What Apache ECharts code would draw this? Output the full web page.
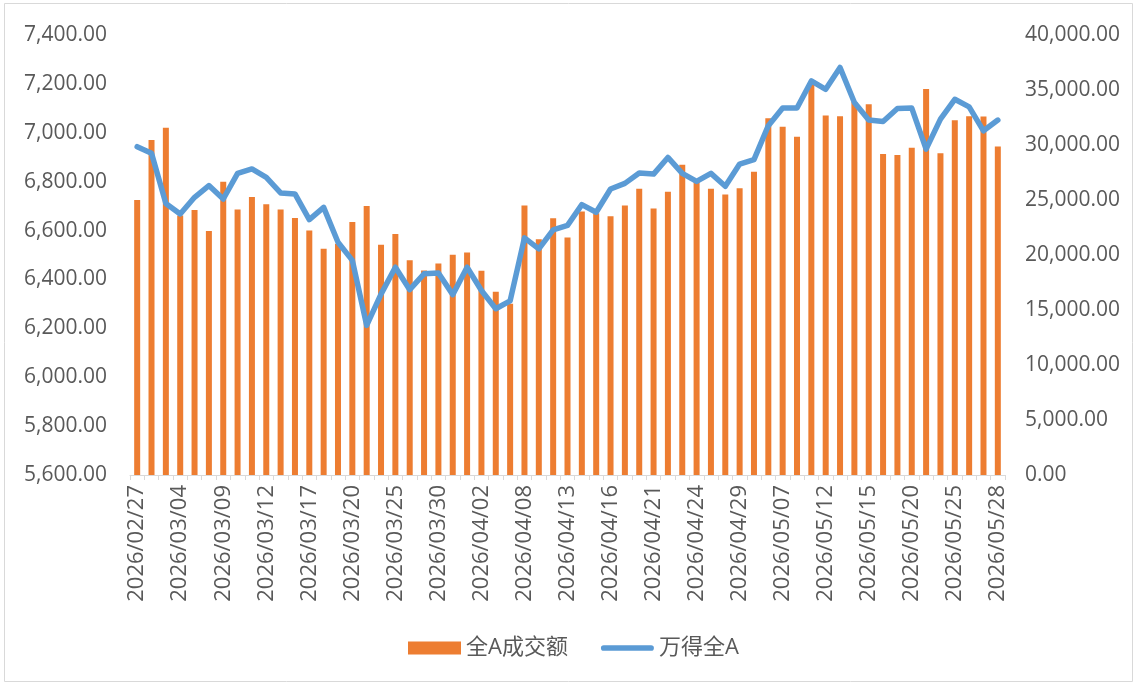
<!DOCTYPE html>
<html>
<head>
<meta charset="utf-8">
<script src="https://cdn.jsdelivr.net/npm/echarts@6/dist/echarts.min.js"></script>
<style>
html,body{margin:0;padding:0;background:#fff;}
#chart{width:1136px;height:684px;}
</style>
</head>
<body>
<div id="chart"></div>
<script>
var categories = [
 '2026/02/27','2026/03/02','2026/03/03','2026/03/04','2026/03/05','2026/03/06',
 '2026/03/09','2026/03/10','2026/03/11','2026/03/12','2026/03/13',
 '2026/03/16','2026/03/17','2026/03/18','2026/03/19','2026/03/20',
 '2026/03/23','2026/03/24','2026/03/25','2026/03/26','2026/03/27',
 '2026/03/30','2026/03/31','2026/04/01','2026/04/02','2026/04/03',
 '2026/04/07','2026/04/08','2026/04/09','2026/04/10',
 '2026/04/13','2026/04/14','2026/04/15','2026/04/16','2026/04/17',
 '2026/04/20','2026/04/21','2026/04/22','2026/04/23','2026/04/24',
 '2026/04/27','2026/04/28','2026/04/29','2026/04/30',
 '2026/05/06','2026/05/07','2026/05/08',
 '2026/05/11','2026/05/12','2026/05/13','2026/05/14','2026/05/15',
 '2026/05/18','2026/05/19','2026/05/20','2026/05/21','2026/05/22',
 '2026/05/25','2026/05/26','2026/05/27','2026/05/28'
];
var turnover = [
 25000,30450,31560,23580,24100,22190,
 26670,24130,25280,24610,24130,
 23370,22220,20560,21020,23010,
 24460,20930,21920,19530,18590,
 19230,20020,20230,18570,16660,
 15570,24490,21430,23340,
 21590,23950,23790,23520,24490,
 26030,24220,25760,28210,26760,
 26030,25490,26060,27570,
 32440,31650,30750,
 35530,32680,32620,33900,33710,
 29180,29090,29750,35080,29240,
 32260,32620,32590,29870
];
var windA = [
 6943,6916,6711,6668,6736,6784,
 6729,6834,6852,6818,6754,
 6750,6645,6695,6552,6478,
 6212,6340,6450,6358,6423,
 6426,6338,6450,6355,6280,
 6312,6570,6525,6603,
 6621,6706,6675,6770,6793,
 6835,6831,6899,6834,6801,
 6834,6781,6872,6890,
 7029,7101,7101,
 7212,7178,7267,7124,7052,
 7046,7099,7101,6933,7056,
 7137,7106,7008,7052
];
var seriesNames = ['全A成交额','万得全A'];

function fmt(v){
  return v.toLocaleString('en-US',{minimumFractionDigits:2,maximumFractionDigits:2});
}
var FONT = '"Open Sans","Noto Sans CJK SC",sans-serif';
var chart = echarts.init(document.getElementById('chart'), null, {renderer:'canvas'});
chart.setOption({
  animation:false,
  backgroundColor:'#fff',
  graphic:[{type:'rect',shape:{x:4.5,y:3.5,width:1128,height:678},style:{fill:'none',stroke:'#d9d9d9',lineWidth:1},silent:true,z:-1}],
  grid:{left:130,right:131,top:35,bottom:209,containLabel:false},
  legend:{
    top:637,left:408,padding:0,
    itemWidth:53,itemHeight:13,itemGap:33,
    textStyle:{color:'#595959',fontSize:22,fontFamily:FONT},
    data:[
      {name:seriesNames[0],icon:'rect'},
      {name:seriesNames[1],icon:'path://M3,0 L53,0 A3,3 0 0 1 53,6 L3,6 A3,3 0 0 1 3,0 Z',itemStyle:{color:'#5B9BD5'}}
    ]
  },
  xAxis:{
    type:'category',data:categories,boundaryGap:true,
    axisLine:{lineStyle:{color:'#d9d9d9',width:1}},
    axisTick:{show:true,interval:0,length:5,lineStyle:{color:'#d9d9d9'}},
    axisLabel:{interval:2,rotate:90,margin:10,color:'#595959',fontSize:22,fontFamily:FONT},
    splitLine:{show:false}
  },
  yAxis:[
    {type:'value',min:5600,max:7400,interval:200,position:'left',
     axisLine:{show:false},axisTick:{show:false},splitLine:{show:false},
     axisLabel:{margin:23,color:'#595959',fontSize:21,fontFamily:FONT,formatter:fmt}},
    {type:'value',min:0,max:40000,interval:5000,position:'right',
     axisLine:{show:false},axisTick:{show:false},splitLine:{show:false},
     axisLabel:{margin:20,color:'#595959',fontSize:21,fontFamily:FONT,formatter:fmt}}
  ],
  series:[
    {name:seriesNames[0],type:'bar',yAxisIndex:1,data:turnover,barWidth:6,
     itemStyle:{color:'#ED7D31'},z:1},
    {name:seriesNames[1],type:'line',yAxisIndex:0,data:windA,symbol:'none',
     lineStyle:{color:'#5B9BD5',width:5.5,join:'round',cap:'round'},itemStyle:{color:'#5B9BD5'},z:2}
  ]
});
</script>
</body>
</html>
